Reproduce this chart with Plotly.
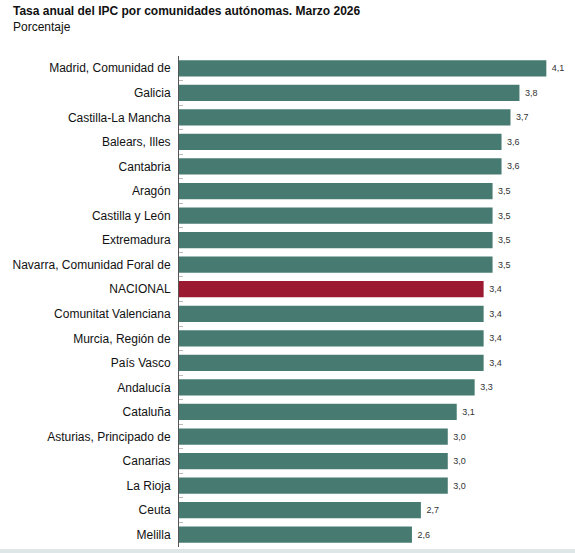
import plotly.graph_objects as go

comunidades = [
    "Madrid, Comunidad de", "Galicia", "Castilla-La Mancha", "Balears, Illes",
    "Cantabria", "Aragón", "Castilla y León", "Extremadura",
    "Navarra, Comunidad Foral de", "NACIONAL", "Comunitat Valenciana",
    "Murcia, Región de", "País Vasco", "Andalucía", "Cataluña",
    "Asturias, Principado de", "Canarias", "La Rioja", "Ceuta", "Melilla",
]
tasa = [4.1, 3.8, 3.7, 3.6, 3.6, 3.5, 3.5, 3.5, 3.5, 3.4,
        3.4, 3.4, 3.4, 3.3, 3.1, 3.0, 3.0, 3.0, 2.7, 2.6]

verde = "#477b72"
rojo = "#9b1a31"
colores = [rojo if c == "NACIONAL" else verde for c in comunidades]
etiquetas = ["\u00a0" + f"{v:.1f}".replace(".", ",") for v in tasa]

fig = go.Figure()
fig.add_trace(go.Bar(
    x=tasa, y=comunidades, orientation="h",
    marker=dict(color=colores, line=dict(width=0)),
    text=etiquetas, textposition="outside",
    textfont=dict(family="Arial, Liberation Sans", size=9, color="#333333"),
    cliponaxis=False, width=0.66,
    hoverinfo="skip",
))

fig.update_layout(
    width=575, height=553,
    margin=dict(l=179, r=0, t=56, b=6, autoexpand=False),
    paper_bgcolor="white", plot_bgcolor="white",
    font=dict(family="Arial, Liberation Sans", size=12, color="#222222"),
    showlegend=False,
)
fig.update_xaxes(range=[0, 4.42], visible=False)
fig.update_yaxes(
    autorange="reversed", automargin=False,
    showline=True, linecolor="#555555", linewidth=1,
    ticks="inside", tickson="boundaries", ticklen=4, tickcolor="#bbbbbb",
    showgrid=False, ticklabelstandoff=5,
    tickfont=dict(size=12, color="#111111"),
)

fig.add_annotation(
    text="<b>Tasa anual del IPC por comunidades autónomas. Marzo 2026</b>",
    xref="paper", yref="paper", x=-168 / 396, y=1.0916,
    xanchor="left", yanchor="middle", showarrow=False,
    font=dict(size=12, color="#111111"),
)
fig.add_annotation(
    text="Porcentaje",
    xref="paper", yref="paper", x=-168 / 396, y=1.059,
    xanchor="left", yanchor="middle", showarrow=False,
    font=dict(size=12, color="#111111"),
)
# franja gris al pie
fig.add_shape(type="rect", xref="paper", yref="paper",
              x0=-179 / 396, x1=1, y0=-6 / 491, y1=-2 / 491,
              fillcolor="#dfe6e8", line=dict(width=0))

# sin margen del body para que la figura empiece en (0, 0)
fig.write_html("out.html", config={"displayModeBar": False},
               post_script="document.body.style.margin='0';")
